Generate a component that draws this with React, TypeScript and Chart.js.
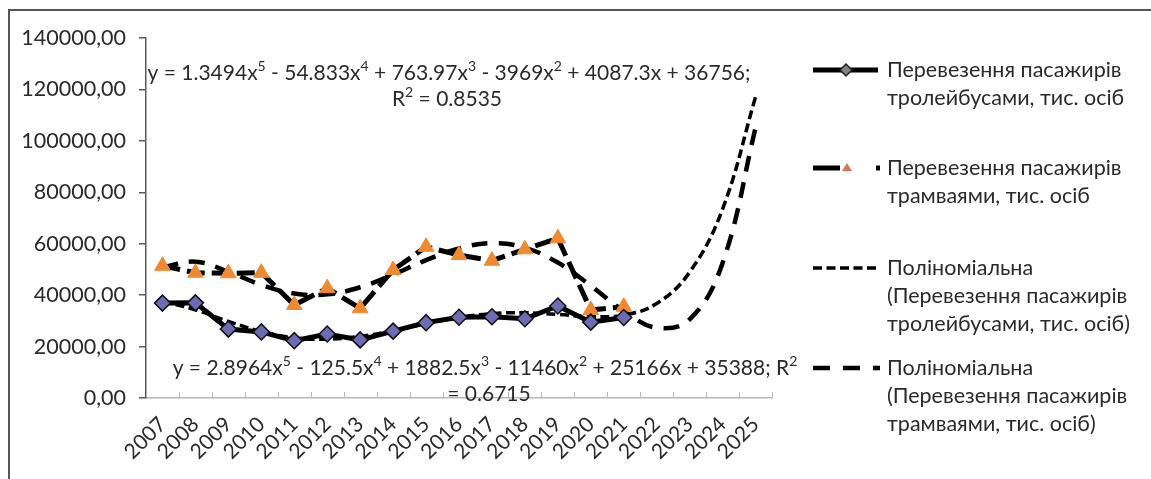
import React, { useEffect, useRef } from 'react';
import { Chart, registerables } from 'chart.js';

Chart.register(...registerables);

const years = ['2007', '2008', '2009', '2010', '2011', '2012', '2013', '2014', '2015', '2016', '2017', '2018', '2019', '2020', '2021', '2022', '2023', '2024', '2025'];

const trolleybus = [36900, 37000, 26800, 25700, 22300, 24900, 22600, 26000, 29300, 31400, 31600, 30800, 35800, 29500, 31300, null, null, null, null];
const tram = [51400, 48700, 48500, 48700, 36200, 42700, 34900, 49800, 58800, 55600, 53400, 57800, 62100, 34200, 35500, null, null, null, null];

// trend values at each year, as given by the trendline equations printed on the chart
const trolleyTrend = [37585, 34332, 29811, 25840, 23410, 22843, 23953, 26212, 28908, 31309, 32824, 33165, 32510, 31664, 32219, 36723, 48932, 73479, 117032];
const tramTrend = [50854, 53025, 49112, 44010, 40644, 40318, 43062, 47977, 53589, 58188, 60184, 58449, 52666, 43677, 33832, 27332, 30581, 52533, 105037];

const yTicksMax = 140000;
const yTickStep = 20000;

const eqTrolley = ['y = 1.3494x^5 - 54.833x^4 + 763.97x^3 - 3969x^2 + 4087.3x + 36756;', 'R^2 = 0.8535'];
const eqTram = ['y = 2.8964x^5 - 125.5x^4 + 1882.5x^3 - 11460x^2 + 25166x + 35388; R^2', '= 0.6715'];

const legendTrolley = ['Перевезення пасажирів', 'тролейбусами, тис. осіб'];
const legendTram = ['Перевезення пасажирів', 'трамваями, тис. осіб'];
const legendTrendTrolley = ['Поліноміальна', '(Перевезення пасажирів', 'тролейбусами, тис. осіб)'];
const legendTrendTram = ['Поліноміальна', '(Перевезення пасажирів', 'трамваями, тис. осіб)'];

const FONT = 'Lato, "Open Sans", sans-serif';
const TEXT = '#2a2a2a';
const DIAMOND = '#6c6cb4';
const ORANGE = '#f08a32';

function drawRich(ctx: CanvasRenderingContext2D, text: string, cx: number, cy: number, size: number) {
  const parts: { t: string; sup: boolean }[] = [];
  const re = /\^(\d)/g;
  let last = 0;
  let m: RegExpExecArray | null;
  while ((m = re.exec(text))) {
    if (m.index > last) parts.push({ t: text.slice(last, m.index), sup: false });
    parts.push({ t: m[1], sup: true });
    last = m.index + m[0].length;
  }
  if (last < text.length) parts.push({ t: text.slice(last), sup: false });
  const supSize = Math.round(size * 0.68);
  let total = 0;
  const widths = parts.map((p) => {
    ctx.font = `${p.sup ? supSize : size}px ${FONT}`;
    const w = ctx.measureText(p.t).width;
    total += w;
    return w;
  });
  let x = cx - total / 2;
  ctx.textAlign = 'left';
  ctx.textBaseline = 'middle';
  ctx.fillStyle = TEXT;
  parts.forEach((p, i) => {
    ctx.font = `${p.sup ? supSize : size}px ${FONT}`;
    ctx.fillText(p.t, x, p.sup ? cy - size * 0.3 : cy);
    x += widths[i];
  });
}

const decorPlugin = {
  id: 'decor',
  afterDraw(chart: any) {
    const ctx: CanvasRenderingContext2D = chart.ctx;
    const xs = chart.scales.x;
    const area = chart.chartArea;
    ctx.save();
    // inside tick marks on x axis (category boundaries)
    ctx.strokeStyle = '#b8b8b8';
    ctx.lineWidth = 1;
    const n = years.length;
    for (let i = 1; i <= n; i++) {
      const x = Math.round(xs.left + ((xs.right - xs.left) * i) / n) + 0.5;
      ctx.beginPath();
      ctx.moveTo(x, area.bottom);
      ctx.lineTo(x, area.bottom - 6);
      ctx.stroke();
    }
    // equations
    drawRich(ctx, eqTrolley[0], 449, 73, 21);
    drawRich(ctx, eqTrolley[1], 447, 99, 21);
    drawRich(ctx, eqTram[0], 485, 368, 21);
    drawRich(ctx, eqTram[1], 489, 394, 21);

    // legend
    const tx = 887;
    const lh = 28;
    const x0 = 813;
    const x1 = 878;
    const items = [
      { lines: legendTrolley, y: 70, kind: 0 },
      { lines: legendTram, y: 168, kind: 1 },
      { lines: legendTrendTrolley, y: 268, kind: 2 },
      { lines: legendTrendTram, y: 368, kind: 3 },
    ];
    items.forEach((it) => {
      const y = it.y;
      ctx.setLineDash([]);
      ctx.strokeStyle = '#000';
      ctx.lineCap = 'butt';
      if (it.kind === 0) {
        ctx.lineWidth = 5;
        ctx.beginPath();
        ctx.moveTo(x0, y);
        ctx.lineTo(x1, y);
        ctx.stroke();
        ctx.beginPath();
        ctx.moveTo(846 - 6, y);
        ctx.lineTo(846, y - 6);
        ctx.lineTo(846 + 6, y);
        ctx.lineTo(846, y + 6);
        ctx.closePath();
        ctx.fillStyle = '#808080';
        ctx.fill();
        ctx.lineWidth = 1.5;
        ctx.strokeStyle = '#222';
        ctx.stroke();
      } else if (it.kind === 1) {
        ctx.lineWidth = 5;
        ctx.beginPath();
        ctx.moveTo(x0, y);
        ctx.lineTo(840, y);
        ctx.stroke();
        ctx.fillStyle = '#000';
        ctx.fillRect(876, y - 2.5, 4, 5);
        ctx.beginPath();
        ctx.moveTo(847, y - 5);
        ctx.lineTo(852, y + 3);
        ctx.lineTo(842, y + 3);
        ctx.closePath();
        ctx.fillStyle = '#e0705a';
        ctx.fill();
      } else if (it.kind === 2) {
        ctx.lineWidth = 3.5;
        ctx.setLineDash([9, 4.5]);
        ctx.beginPath();
        ctx.moveTo(x0, y);
        ctx.lineTo(x1 + 2, y);
        ctx.stroke();
      } else {
        ctx.lineWidth = 4.5;
        ctx.setLineDash([17, 13]);
        ctx.beginPath();
        ctx.moveTo(x0, y);
        ctx.lineTo(x1 + 2, y);
        ctx.stroke();
      }
      ctx.setLineDash([]);
      ctx.fillStyle = TEXT;
      ctx.font = `21.5px ${FONT}`;
      ctx.textAlign = 'left';
      ctx.textBaseline = 'middle';
      it.lines.forEach((l, i) => ctx.fillText(l, tx, y + i * lh));
    });

    // frame
    ctx.strokeStyle = '#555';
    ctx.lineWidth = 2;
    ctx.beginPath();
    ctx.moveTo(9, 479);
    ctx.lineTo(9, 10);
    ctx.lineTo(1151, 10);
    ctx.stroke();
    ctx.restore();
  },
};

export default function App() {
  const ref = useRef<HTMLCanvasElement | null>(null);
  useEffect(() => {
    if (!ref.current) return;
    const chart = new Chart(ref.current, {
      type: 'line',
      data: {
        labels: years,
        datasets: [
          {
            label: legendTrolley.join(' '),
            data: trolleybus,
            borderColor: '#000',
            borderWidth: 5,
            pointStyle: 'rectRot',
            pointRadius: 8,
            pointBackgroundColor: DIAMOND,
            pointBorderColor: '#111',
            pointBorderWidth: 1.5,
            tension: 0,
            spanGaps: false,
          },
          {
            label: legendTram.join(' '),
            data: tram,
            borderColor: '#000',
            borderWidth: 5,
            borderDash: [18, 7],
            pointStyle: 'triangle',
            pointRadius: 9,
            pointBackgroundColor: ORANGE,
            pointBorderColor: ORANGE,
            pointBorderWidth: 1,
            tension: 0,
          },
          {
            label: legendTrendTrolley.join(' '),
            data: trolleyTrend,
            borderColor: '#000',
            borderWidth: 3.5,
            borderDash: [9, 4.5],
            pointRadius: 0,
            tension: 0.4,
          },
          {
            label: legendTrendTram.join(' '),
            data: tramTrend,
            borderColor: '#000',
            borderWidth: 4.5,
            borderDash: [16, 11],
            pointRadius: 0,
            tension: 0.4,
          },
        ],
      },
      options: {
        animation: false,
        responsive: true,
        maintainAspectRatio: false,
        layout: { padding: { left: 0, top: 38, right: 379, bottom: 0 } },
        plugins: { legend: { display: false }, tooltip: { enabled: false } },
        scales: {
          x: {
            offset: true,
            grid: { display: false },
            border: { display: true, color: '#b8b8b8', width: 1.5 },
            ticks: {
              minRotation: 45,
              maxRotation: 45,
              autoSkip: false,
              padding: 6,
              color: TEXT,
              font: { family: FONT, size: 21 },
            },
            afterFit: (s: any) => {
              s.height = 81;
            },
          },
          y: {
            min: 0,
            max: yTicksMax,
            grid: { display: true, drawOnChartArea: false, drawTicks: true, tickLength: 7, color: '#555a66', lineWidth: 1.5 },
            border: { display: true, color: '#555a66', width: 1.5 },
            ticks: {
              stepSize: yTickStep,
              padding: 13,
              color: TEXT,
              font: { family: FONT, size: 21.5 },
              callback: (v: any) => Number(v).toFixed(2).replace('.', ','),
            },
            afterFit: (s: any) => {
              s.width = 146;
            },
          },
        },
      },
      plugins: [decorPlugin],
    });
    return () => chart.destroy();
  }, []);
  return (
    <div style={{ position: 'fixed', left: 0, top: 0, width: 1151, height: 479, background: '#fff' }}>
      <canvas ref={ref} />
    </div>
  );
}
